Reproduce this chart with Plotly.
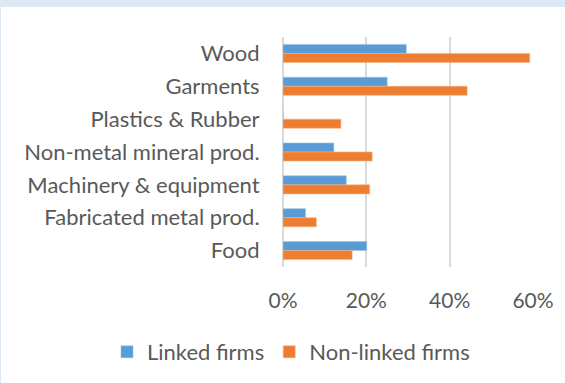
import plotly.graph_objects as go

# Sectors, listed top to bottom
sectors = [
    "Wood",
    "Garments",
    "Plastics & Rubber",
    "Non-metal mineral prod.",
    "Machinery & equipment",
    "Fabricated metal prod.",
    "Food",
]
# Shares in percent
linked = [29.6, 25.0, 0.0, 12.2, 15.2, 5.4, 20.1]
non_linked = [59.2, 44.2, 13.9, 21.4, 20.8, 8.0, 16.6]
tick_vals = [0, 20, 40, 60]
tick_text = ["0%", "20%", "40%", "60%"]

W, H = 565, 383
ML, MR, MT, MB = 283, 32, 37, 116
FONT = "Lato"
GREY = "#595959"

fig = go.Figure()
fig.add_trace(go.Bar(
    y=sectors, x=linked, orientation="h", name="Linked firms",
    marker=dict(color="#5B9BD5", line=dict(color="#9DC3E6", width=0.6)),
))
fig.add_trace(go.Bar(
    y=sectors, x=non_linked, orientation="h", name="Non-linked firms",
    marker=dict(color="#ED7D31", line=dict(color="#F4B183", width=0.6)),
))

pw = W - ML - MR
ph = H - MT - MB
# white card over a pale blue frame (top band + thin left edge)
fig.add_shape(
    type="rect", xref="paper", yref="paper", layer="below",
    x0=(1 - ML) / pw, x1=(W - ML) / pw,
    y0=-MB / ph, y1=(H - 7 - MB) / ph,
    fillcolor="white", line=dict(width=0),
)

fig.update_layout(
    width=W, height=H,
    margin=dict(l=ML, r=MR, t=MT, b=MB, autoexpand=False),
    paper_bgcolor="#DDE8F5",
    plot_bgcolor="rgba(0,0,0,0)",
    barmode="group", bargap=0.45, bargroupgap=0,
    font=dict(family=FONT, size=22, color=GREY),
    showlegend=True,
    legend=dict(
        orientation="h",
        x=(107 - ML) / pw, xanchor="left",
        y=(H - 352 - MB) / ph, yanchor="middle",
        font=dict(family=FONT, size=22, color=GREY),
        bgcolor="rgba(0,0,0,0)",
    ),
    xaxis=dict(
        range=[0, 60], tickmode="array", tickvals=tick_vals, ticktext=tick_text,
        showgrid=True, gridcolor="#D9D9D9", gridwidth=1.5,
        zeroline=True, zerolinecolor="#D9D9D9", zerolinewidth=1.5,
        showline=False, ticks="outside", ticklen=15, tickcolor="rgba(0,0,0,0)",
        tickfont=dict(family=FONT, size=21, color=GREY),
        fixedrange=True,
    ),
    yaxis=dict(
        categoryorder="array", categoryarray=sectors, autorange="reversed",
        showgrid=False, zeroline=False, showline=False,
        ticks="outside", ticklen=18, tickcolor="rgba(0,0,0,0)",
        tickfont=dict(family=FONT, size=22, color=GREY),
        fixedrange=True,
    ),
)

fig.write_html("out.html")
